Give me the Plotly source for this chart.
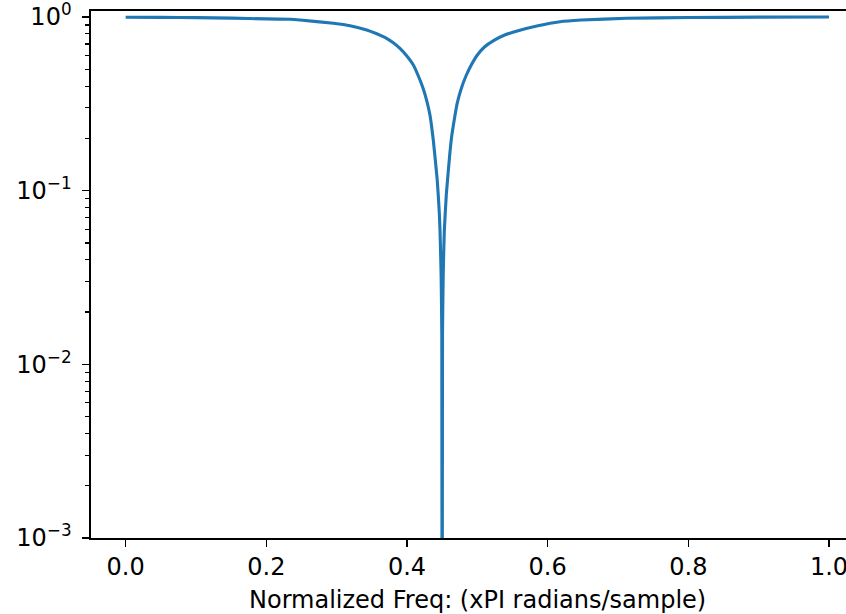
import plotly.graph_objects as go

# Normalized frequency (x PI radians/sample) and magnitude
freq = [0.0, 0.05, 0.10, 0.15, 0.20, 0.234, 0.248, 0.2955, 0.319, 0.3427, 0.357,
        0.371, 0.3805, 0.390, 0.3995, 0.409, 0.416, 0.423, 0.4285, 0.4327, 0.4374,
        0.443, 0.4459, 0.4470, 0.4485, 0.4495, 0.4500, 0.4505, 0.4515, 0.4530,
        0.4559, 0.4607, 0.4635, 0.4678, 0.4715, 0.4772, 0.484, 0.4914, 0.500,
        0.5105, 0.5237, 0.5389, 0.558, 0.5862, 0.6175, 0.6478, 0.712, 0.80,
        0.90, 1.0]
mag = [0.996, 0.995, 0.992, 0.985, 0.975, 0.970, 0.961, 0.920, 0.891, 0.842, 0.801,
       0.754, 0.711, 0.660, 0.598, 0.529, 0.459, 0.388, 0.325, 0.272, 0.195,
       0.115, 0.075, 0.058, 0.033, 0.015, 0.00001, 0.015, 0.033, 0.058,
       0.095, 0.160, 0.205, 0.265, 0.320, 0.388, 0.459, 0.529, 0.604,
       0.674, 0.734, 0.788, 0.834, 0.891, 0.940, 0.961, 0.983, 0.993,
       0.998, 1.0]

x_ticks = [0.0, 0.2, 0.4, 0.6, 0.8, 1.0]
x_ticklabels = ["0.0", "0.2", "0.4", "0.6", "0.8", "1.0"]
y_ticks = [0.001, 0.01, 0.1, 1.0]
y_ticklabels = ["10<sup>−3</sup>", "10<sup>−2</sup>", "10<sup>−1</sup>", "10<sup>0</sup>"]

x_label = "Normalized Freq: (xPI radians/sample)"
x_label_center = 0.5  # centre of the full matplotlib axes span [-0.05, 1.05]

FONT = "DejaVu Sans"
FS = 24

fig = go.Figure()
fig.add_trace(go.Scatter(x=freq, y=mag, mode="lines",
                         line=dict(color="#1f77b4", width=3.1, shape="spline", smoothing=0.4),
                         showlegend=False, hoverinfo="skip"))

fig.add_annotation(text=x_label, x=x_label_center, xref="x", y=-0.087, yref="paper",
                   yanchor="top", xanchor="center", showarrow=False,
                   font=dict(family=FONT, size=FS, color="black"))

fig.update_layout(
    width=846, height=614,
    margin=dict(l=91, r=0, t=11, b=76),
    paper_bgcolor="white", plot_bgcolor="white",
    font=dict(family=FONT, size=FS, color="black"),
    xaxis=dict(
        range=[-0.0493, 1.0242],
        tickmode="array", tickvals=x_ticks, ticktext=x_ticklabels,
        ticks="outside", ticklen=7, tickwidth=1.6, tickcolor="black",
        showline=True, linecolor="black", linewidth=1.6, mirror=True,
        showgrid=False, zeroline=False, automargin=False,
        ticklabeloverflow="allow",
    ),
    yaxis=dict(
        type="log", range=[-3, 0.0346],
        tickmode="array", tickvals=y_ticks, ticktext=y_ticklabels,
        ticks="outside", ticklen=7, tickwidth=1.6, tickcolor="black",
        ticklabelstandoff=6, ticklabeloverflow="allow",
        minor=dict(ticks="outside", ticklen=4, tickwidth=1.2, tickcolor="black",
                   dtick="D1", showgrid=False),
        showline=True, linecolor="black", linewidth=1.6, mirror=False,
        showgrid=False, zeroline=False, automargin=False,
    ),
)

fig.write_html("out.html", config={"displayModeBar": False, "staticPlot": True},
               post_script="document.body.style.margin='0';document.body.style.overflow='hidden';")
